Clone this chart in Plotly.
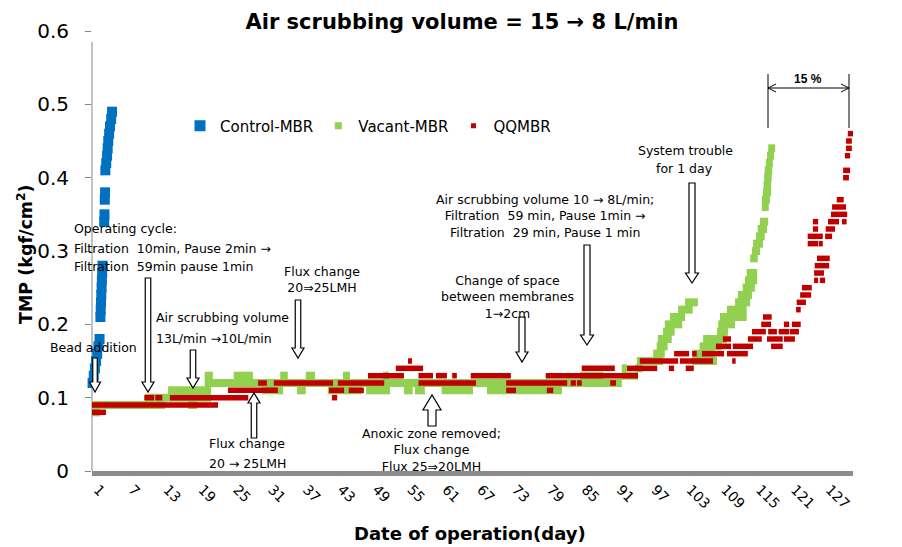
import plotly.graph_objects as go

# ---------------- data ----------------
day_ticks = [1, 7, 13, 19, 25, 31, 37, 43, 49, 55, 61, 67, 73, 79, 85, 91, 97, 103, 109, 115, 121, 127]

# Control-MBR readings (day, TMP)
ctrl_day = [-0.1, 0.1, 0.3, 0.5, 0.7, 0.9, 1.1, 1.3,
            1.45, 1.5, 1.55, 1.6, 1.65, 1.7, 1.75, 1.8,
            2.1, 2.15, 2.2, 2.25,
            2.3, 2.45, 2.6, 2.7, 2.8, 2.95, 3.1, 3.3, 3.45]
ctrl_tmp = [0.11, 0.12, 0.13, 0.14, 0.15, 0.16, 0.17, 0.18,
            0.21, 0.22, 0.23, 0.24, 0.25, 0.26, 0.27, 0.28,
            0.34, 0.35, 0.37, 0.38,
            0.41, 0.42, 0.43, 0.44, 0.45, 0.46, 0.47, 0.48, 0.49]

# Vacant-MBR: runs of constant TMP (start day, end day, TMP)
vac_start = [0.0, 0.0, 16.5, 9.1, 13.1, 29.3, 35.3, 40.6, 47.2, 53.7, 55.6, 60.2, 68.0,
             19.4, 19.4, 24.4, 32.4, 36.8, 43.2, 50.1, 84.0, 91.2, 91.2, 93.5,
             93.8, 96.6, 97.2, 97.4, 98.3, 98.6, 99.5, 100.9, 102.1,
             103.3, 103.4, 104.6, 105.2, 107.6, 107.8, 108.1, 109.3, 110.7, 111.2,
             112.0, 112.4, 112.7, 113.3, 113.6, 113.8, 114.3, 114.6, 115.0,
             115.3, 115.3, 115.5, 115.6, 115.7, 115.8, 116.0, 116.2, 116.4]
vac_end = [1.4, 12.6, 18.1, 20.5, 20.5, 32.9, 36.8, 46.5, 51.3, 55.2, 57.3, 65.6, 80.9,
           91.2, 20.8, 27.7, 33.7, 38.4, 44.4, 51.1, 88.0, 94.0, 92.1, 94.8,
           98.3, 98.6, 99.1, 99.8, 100.3, 101.6, 102.1, 103.4, 104.3,
           107.6, 107.2, 108.4, 109.3, 109.5, 110.7, 112.7, 112.7, 113.3, 113.6,
           114.1, 114.5, 114.5, 114.6, 115.0, 115.5, 115.8, 116.2, 116.4,
           116.5, 116.7, 116.9, 116.9, 117.0, 117.1, 117.2, 117.4, 117.6]
vac_tmp = [0.08, 0.09, 0.09, 0.10, 0.11, 0.11, 0.11, 0.11, 0.11, 0.11, 0.11, 0.11, 0.11,
           0.12, 0.13, 0.13, 0.13, 0.13, 0.13, 0.13, 0.13, 0.13, 0.14, 0.14,
           0.15, 0.16, 0.17, 0.18, 0.19, 0.20, 0.21, 0.22, 0.23,
           0.15, 0.16, 0.17, 0.18, 0.19, 0.20, 0.21, 0.22, 0.23, 0.24,
           0.25, 0.26, 0.27, 0.29, 0.30, 0.31, 0.32, 0.33, 0.34,
           0.36, 0.37, 0.38, 0.39, 0.40, 0.41, 0.42, 0.43, 0.44]

# QQMBR: runs of constant TMP (start day, end day, TMP)
qq_start = [0.0, 0.0, 9.0, 10.9, 13.4, 23.4, 28.6, 31.3, 42.3, 40.8, 44.2, 41.3,
            47.5, 52.3, 54.4, 56.2, 59.2, 62.0, 56.2, 65.2, 71.3, 71.3, 78.3,
            82.4, 83.5, 89.2, 78.1, 84.3, 92.1, 94.3, 101.2, 99.3, 102.2,
            100.2, 103.3, 105.0, 109.3, 110.2, 107.4, 110.3, 116.9,
            108.6, 112.9, 116.2, 119.1, 113.6, 116.4, 118.2, 120.1,
            115.2, 119.1, 120.5, 115.5, 121.2, 121.3, 121.9, 122.2,
            124.3, 125.3, 124.3, 124.4, 124.8, 123.2, 125.1, 123.2, 126.2,
            124.1, 126.3, 124.1, 126.7, 129.1, 127.2, 127.4, 128.2,
            129.3, 129.3, 129.6, 129.8, 129.8, 130.1]
qq_end = [21.7, 2.4, 10.7, 12.1, 26.9, 32.0, 30.1, 41.5, 50.3, 43.4, 46.8, 42.2,
          53.7, 57.0, 55.1, 58.7, 61.1, 62.8, 66.1, 72.1, 81.8, 73.0, 79.4,
          83.3, 84.3, 90.2, 94.0, 90.0, 97.3, 100.9, 106.9, 100.2, 103.6,
          102.8, 104.1, 108.8, 112.9, 110.8, 110.0, 113.8, 118.9,
          110.0, 115.3, 118.9, 121.0, 116.0, 117.9, 120.0, 121.7,
          116.9, 120.0, 122.0, 117.0, 122.0, 122.9, 123.8, 123.9,
          125.0, 126.2, 126.0, 126.9, 127.0, 125.0, 125.8, 125.8, 127.4,
          125.0, 127.9, 125.0, 128.6, 129.9, 130.0, 129.8, 129.4,
          130.3, 130.5, 130.5, 130.8, 130.8, 131.0]
qq_tmp = [0.09, 0.08, 0.10, 0.10, 0.10, 0.11, 0.12, 0.12, 0.12, 0.11, 0.11, 0.10,
          0.13, 0.14, 0.15, 0.13, 0.13, 0.13, 0.12, 0.13, 0.12, 0.11, 0.11,
          0.12, 0.12, 0.12, 0.13, 0.14, 0.14, 0.15, 0.15, 0.14, 0.14,
          0.16, 0.16, 0.16, 0.16, 0.15, 0.17, 0.17, 0.17,
          0.18, 0.18, 0.18, 0.18, 0.19, 0.19, 0.19, 0.19,
          0.20, 0.20, 0.20, 0.21, 0.22, 0.23, 0.24, 0.25,
          0.26, 0.26, 0.27, 0.28, 0.29, 0.31, 0.31, 0.32, 0.32,
          0.33, 0.33, 0.34, 0.34, 0.34, 0.35, 0.36, 0.37,
          0.40, 0.41, 0.43, 0.44, 0.45, 0.46]

# ---------------- styling ----------------
BLUE, GREEN, RED = "#0070C0", "#92D050", "#C00000"
FONT = "DejaVu Sans"
W, H = 902, 547
L, R, T, B = 92, 853, 31, 471


def px(x):
    return (x - L) / (R - L)


def py(y):
    return (B - y) / (B - T)


def runs(starts, ends, vals):
    xs, ys = [], []
    for s, e, v in zip(starts, ends, vals):
        xs += [s, e, None]
        ys += [v, v, None]
    return xs, ys


fig = go.Figure()

fig.add_trace(go.Scatter(x=ctrl_day, y=ctrl_tmp, mode="markers", name="Control-MBR",
                         marker=dict(symbol="square", size=10, color=BLUE),
                         cliponaxis=False, showlegend=False, hoverinfo="skip"))
vx, vy = runs(vac_start, vac_end, vac_tmp)
fig.add_trace(go.Scatter(x=vx, y=vy, mode="lines", line=dict(color=GREEN, width=8),
                         showlegend=False, hoverinfo="skip"))
qx, qy = runs(qq_start, qq_end, qq_tmp)
fig.add_trace(go.Scatter(x=qx, y=qy, mode="lines", line=dict(color=RED, width=5.5),
                         showlegend=False, hoverinfo="skip"))

# legend entries
for name, col, sz in [("Control-MBR", BLUE, 11), ("Vacant-MBR", GREEN, 7), ("QQMBR", RED, 5)]:
    fig.add_trace(go.Scatter(x=[None], y=[None], mode="markers", name=name,
                             marker=dict(symbol="square", size=sz, color=col)))

# ---------------- annotation arrows ----------------
shapes = []

# y axis line (starts a little below the top of the plot area, as in the reference)
shapes.append(dict(type="line", xref="paper", yref="paper", x0=0, x1=0, y0=0, y1=py(42),
                   line=dict(color="#868686", width=1), layer="below"))


def hollow_arrow(xc, y_tail, y_tip, shaft=5, head=11, head_h=10):
    d = 1 if y_tip > y_tail else -1
    yb = y_tip - d * head_h
    pts = [(xc - shaft / 2, y_tail), (xc - shaft / 2, yb), (xc - head / 2, yb), (xc, y_tip),
           (xc + head / 2, yb), (xc + shaft / 2, yb), (xc + shaft / 2, y_tail)]
    path = "M " + " L ".join(f"{px(a):.5f},{py(b):.5f}" for a, b in pts) + " Z"
    shapes.append(dict(type="path", path=path, xref="paper", yref="paper",
                       fillcolor="white", line=dict(color="black", width=1.2)))


hollow_arrow(95, 358, 392, 4.5, 11, 10)
hollow_arrow(148, 278, 392, 5.5, 12, 10)
hollow_arrow(193, 350, 388, 5.5, 12, 10)
hollow_arrow(254, 438, 393, 5.5, 12, 10)
hollow_arrow(298, 300, 358, 5.5, 12, 10)
hollow_arrow(522, 317, 362, 6, 12, 10)
hollow_arrow(432, 426, 395, 8, 18, 15)
hollow_arrow(587, 245, 345, 6, 13, 10)
hollow_arrow(692, 183, 283, 6, 13, 10)

# 15 % bracket
for xx in (768, 849):
    shapes.append(dict(type="line", xref="paper", yref="paper", x0=px(xx), x1=px(xx),
                       y0=py(74), y1=py(128), line=dict(color="black", width=1)))
shapes.append(dict(type="line", xref="paper", yref="paper", x0=px(768), x1=px(849),
                   y0=py(88), y1=py(88), line=dict(color="black", width=1)))
shapes.append(dict(type="path", xref="paper", yref="paper",
                   path=f"M {px(776)},{py(84)} L {px(768)},{py(88)} L {px(776)},{py(92)}",
                   line=dict(color="black", width=1)))
shapes.append(dict(type="path", xref="paper", yref="paper",
                   path=f"M {px(841)},{py(84)} L {px(849)},{py(88)} L {px(841)},{py(92)}",
                   line=dict(color="black", width=1)))

# ---------------- annotation texts ----------------
texts = [
    ("left", "left", 72, 228, "Operating cycle:"),
    ("left", "left", 72, 248, "Filtration  10min, Pause 2min →"),
    ("left", "left", 72, 266, "Filtration  59min pause 1min"),
    ("center", "center", 93, 347, "Bead addition"),
    ("left", "left", 154, 317, "Air scrubbing volume"),
    ("left", "left", 154, 338, "13L/min →10L/min"),
    ("left", "left", 207, 443, "Flux change"),
    ("left", "left", 207, 463, "20 → 25LMH"),
    ("center", "center", 322, 279, "Flux change<br>20⇒25LMH"),
    ("center", "center", 507, 297, "Change of space<br>between membranes<br>1→2cm"),
    ("center", "center", 431, 450, "Anoxic zone removed;<br>Flux change<br>Flux 25⇒20LMH"),
    ("center", "center", 545, 216,
     "Air scrubbing volume 10 → 8L/min;<br>Filtration  59 min, Pause 1min →<br>Filtration  29 min, Pause 1 min"),
    ("center", "center", 685, 150, "System trouble"),
    ("center", "center", 684, 169, "for 1 day"),
]
annotations = []
for anc, al, x, y, t in texts:
    annotations.append(dict(text=t, x=px(x), y=py(y), xref="paper", yref="paper",
                            xanchor=anc, yanchor="middle", showarrow=False, align=al,
                            font=dict(family=FONT, size=12.5, color="black")))
annotations.append(dict(text="<b>15 %</b>", x=px(808), y=py(79), xref="paper", yref="paper",
                        xanchor="center", yanchor="middle", showarrow=False,
                        font=dict(family="Liberation Sans", size=12, color="black")))
# axis titles
annotations.append(dict(text="<b>TMP (kgf/cm<sup>2</sup>)</b>", x=px(25), y=py(254),
                        xref="paper", yref="paper", textangle=-90, showarrow=False,
                        xanchor="center", yanchor="middle",
                        font=dict(family=FONT, size=17.5, color="black")))
annotations.append(dict(text="<b>Date of operation(day)</b>", x=px(470), y=py(533),
                        xref="paper", yref="paper", showarrow=False,
                        xanchor="center", yanchor="middle",
                        font=dict(family=FONT, size=18, color="black")))

fig.update_layout(
    width=W, height=H,
    margin=dict(l=L, r=W - R, t=T, b=H - B),
    paper_bgcolor="white", plot_bgcolor="white",
    title=dict(text="<b>Air scrubbing volume = 15 → 8 L/min</b>", x=462 / W, xanchor="center",
               y=1 - 22 / H, yanchor="middle", xref="container", yref="container",
               font=dict(family=FONT, size=21, color="black")),
    shapes=shapes, annotations=annotations,
    legend=dict(orientation="h", x=px(180), xanchor="left", y=py(126), yanchor="middle",
                font=dict(family=FONT, size=15, color="black"), bgcolor="rgba(0,0,0,0)",
                itemsizing="trace", itemwidth=30, tracegroupgap=0),
    xaxis=dict(range=[0, 131], tickmode="array", tickvals=day_ticks,
               ticktext=[str(d) for d in day_ticks], tickangle=45,
               showline=True, linecolor="#8c8c8c", linewidth=5, ticks="",
               showgrid=False, zeroline=False,
               tickfont=dict(family=FONT, size=14, color="black")),
    yaxis=dict(range=[0, 0.6], dtick=0.1, tick0=0, showline=False,
               ticks="outside", ticklen=6, tickcolor="#868686",
               showgrid=False, zeroline=False, ticklabelstandoff=12,
               tickfont=dict(family=FONT, size=20, color="black")),
)

fig.write_html("out.html", config={"displayModeBar": False},
               post_script="document.body.style.margin='0';document.body.style.overflow='hidden';")
